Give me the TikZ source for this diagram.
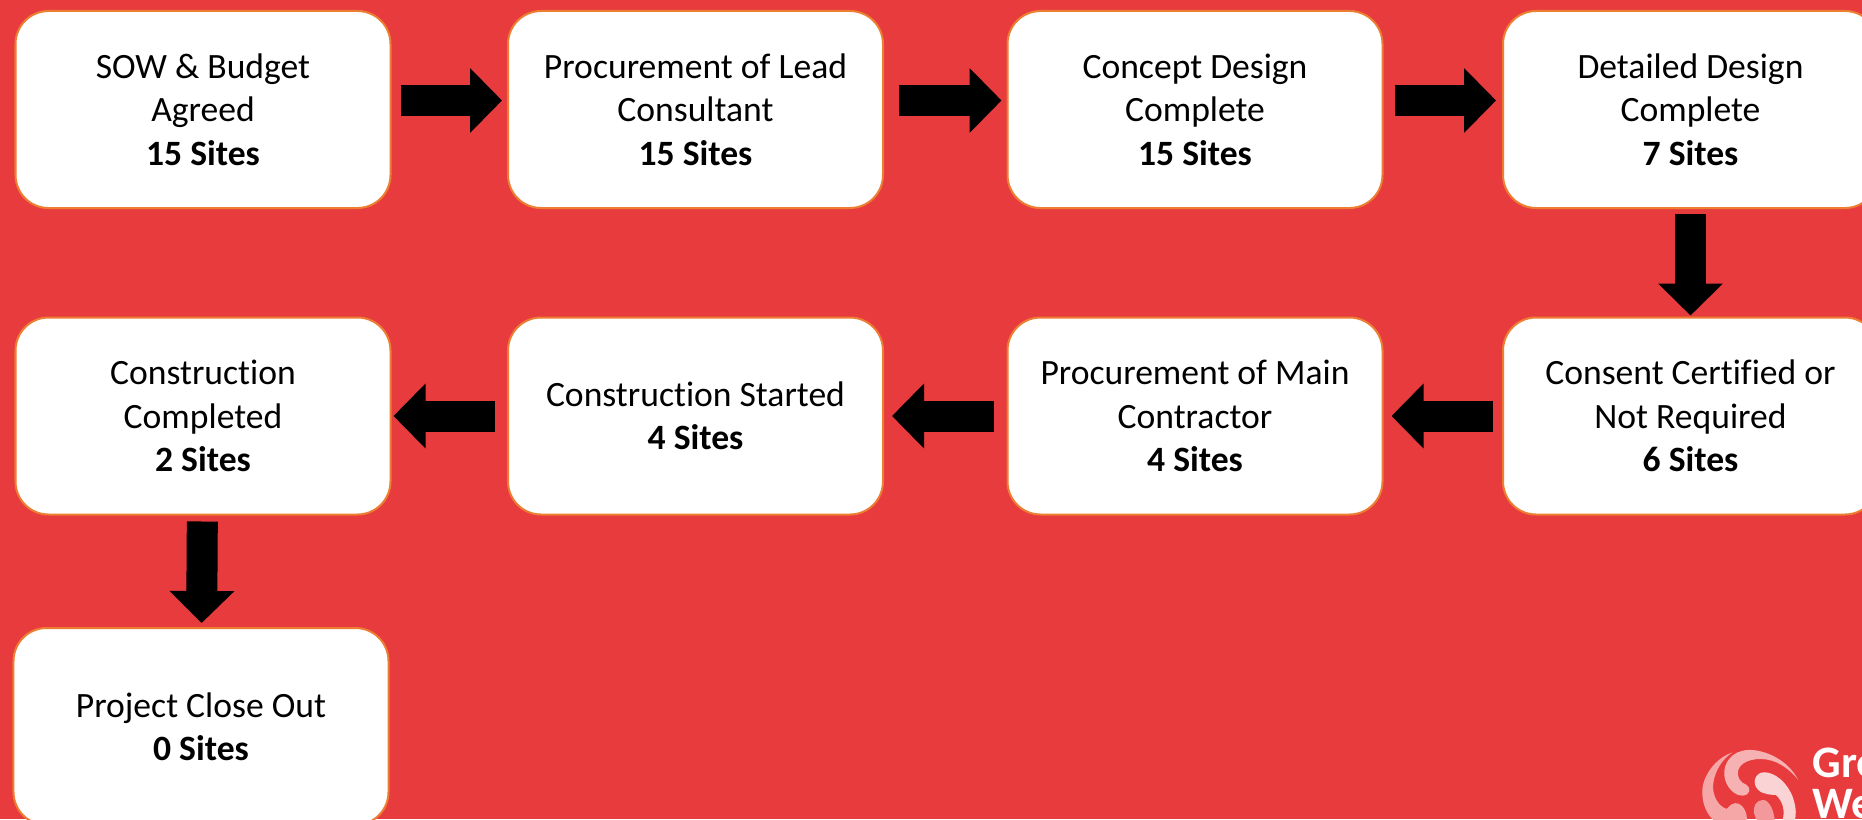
\documentclass[tikz,border=0pt]{standalone}
\usepackage{fontspec}
\setmainfont{Carlito}[Ligatures=NoCommon]
\usepackage{tikz}
\usetikzlibrary{arrows.meta, positioning}
\definecolor{slidered}{HTML}{E83B3E}
\definecolor{boxline}{HTML}{ED7D31}
\tikzset{
  stage/.style={draw=boxline, fill=white, line width=0.02cm, rounded corners=0.33cm,
    minimum width=3.75cm, minimum height=1.97cm, align=center, inner sep=0pt, text=black,
    font=\fontsize{10.13}{12.36}\selectfont},
  flow/.style={draw=black, line width=0.31cm,
    -{Triangle[length=0.32cm, width=0.63cm, fill=black]}},
  brand/.style={text=white, font=\fontsize{12.8}{13}\selectfont\bfseries, anchor=base west, inner sep=0pt},
}
\begin{document}
\begin{tikzpicture}
      \fill[slidered] (0,0) rectangle (18.62,8.19);
      \useasboundingbox (0,0) rectangle (18.62,8.19);
      \clip (0,0) rectangle (18.62,8.19);
      % first row
      \node[stage] (sow) at (2.03,7.095) {SOW \& Budget\\Agreed\\\textbf{15 Sites}};
      \node[stage] (lead) at (6.955,7.095) {Procurement of Lead\\Consultant\\\textbf{15 Sites}};
      \node[stage] (concept) at (11.95,7.095) {Concept Design\\Complete\\\textbf{15 Sites}};
      \node[stage] (detailed) at (16.905,7.095) {Detailed Design\\Complete\\\textbf{7 Sites}};
      % second row
      \node[stage] (consent) at (16.905,4.03) {Consent Certified or\\Not Required\\\textbf{6 Sites}};
      \node[stage] (contractor) at (11.95,4.03) {Procurement of Main\\Contractor\\\textbf{4 Sites}};
      \node[stage] (started) at (6.955,4.03) {Construction Started\\\textbf{4 Sites}};
      \node[stage] (completed) at (2.03,4.03) {Construction\\Completed\\\textbf{2 Sites}};
      % last box runs off the page
      \node[stage] (closeout) at (2.01,0.925) {Project Close Out\\\textbf{0 Sites}};
      % arrows
      \draw[flow, shorten <=0.09cm, shorten >=0.05cm] ([yshift=0.09cm]sow.east) -- ([yshift=0.09cm]lead.west);
      \draw[flow, shorten <=0.15cm, shorten >=0.05cm] ([yshift=0.09cm]lead.east) -- ([yshift=0.09cm]concept.west);
      \draw[flow, shorten <=0.11cm, shorten >=0.06cm] ([yshift=0.09cm]concept.east) -- ([yshift=0.09cm]detailed.west);
      \draw[flow, shorten <=0.05cm, shorten >=0.01cm] (detailed) -- (consent);
      \draw[flow, shorten <=0.09cm, shorten >=0.08cm] (consent) -- (contractor);
      \draw[flow, shorten <=0.13cm, shorten >=0.08cm] (contractor) -- (started);
      \draw[flow, shorten <=0.12cm, shorten >=0.02cm] (started) -- (completed);
      \draw[flow, shorten <=0.06cm, shorten >=0.04cm] (completed) -- (closeout);
      % logo
      \begin{scope}[shift={(16.95,0.79)}, x=0.00333cm, y=-0.00333cm]
        \fill[white!55!slidered] (112,38) .. controls (70,50) and (25,100) .. (22,150) .. controls (20,190) and (35,225) .. (60,245) -- (155,245) .. controls (160,215) and (140,188) .. (120,190) .. controls (105,192) and (100,205) .. (95,207) .. controls (70,200) and (50,165) .. (55,130) .. controls (60,90) and (85,55) .. (112,38);
        \fill[white!60!slidered] (310,120) .. controls (280,60) and (210,28) .. (160,30) .. controls (110,32) and (85,70) .. (88,105) .. controls (90,140) and (120,170) .. (145,167) .. controls (165,165) and (170,145) .. (155,135) .. controls (135,128) and (125,110) .. (130,90) .. controls (140,60) and (190,50) .. (230,62) .. controls (265,72) and (295,100) .. (310,120);
        \fill[white!78!slidered] (205,97) .. controls (240,95) and (280,130) .. (295,175) .. controls (305,205) and (305,230) .. (298,245) -- (262,245) .. controls (272,215) and (265,185) .. (243,165) .. controls (235,165) and (205,165) .. (190,150) .. controls (170,130) and (180,100) .. (205,97);
        \fill[white!48!slidered] (205,180) .. controls (185,180) and (172,200) .. (178,222) .. controls (180,232) and (185,240) .. (190,245) -- (240,245) .. controls (238,215) and (225,182) .. (205,180);
      \end{scope}
      \node[brand] (gre) at (18.12,0.42) {Gre};
      \node[brand] (we) at (18.12,0.01) {We};
\end{tikzpicture}
\end{document}
